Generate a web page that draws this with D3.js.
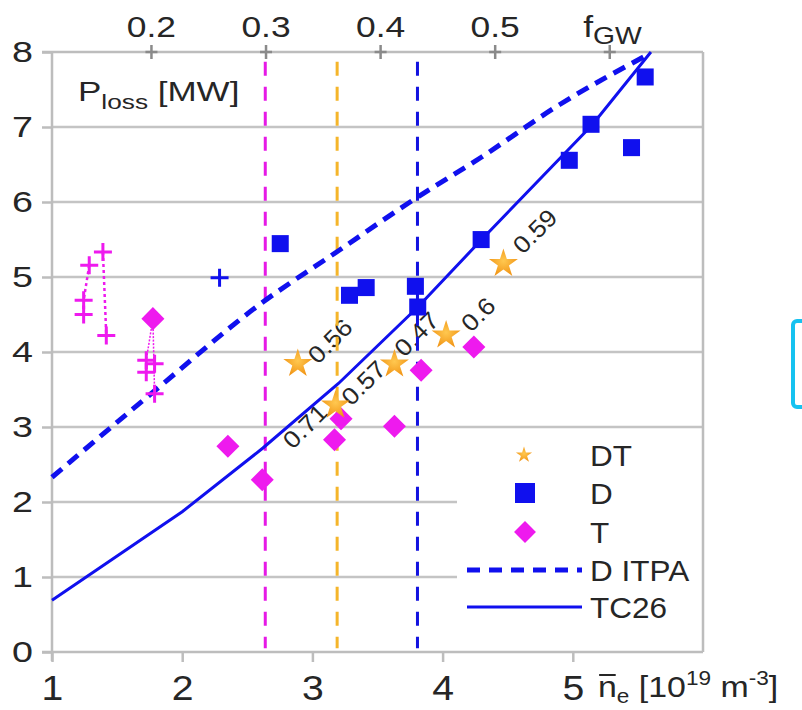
<!DOCTYPE html>
<html><head><meta charset="utf-8">
<script src="https://cdn.jsdelivr.net/npm/d3@7"></script>
<style>
html,body{margin:0;padding:0;background:#fff;}
svg{display:block;font-family:"Liberation Sans",Arial,sans-serif;}
</style></head><body>
<svg id="chart" width="802" height="710"></svg>
<script>
// ---------- data ----------
const yTicks = [0, 1, 2, 3, 4, 5, 6, 7, 8];
const xTicks = [1, 2, 3, 4, 5];
const fTicks = [0.2, 0.3, 0.4, 0.5, 0.6];
const fTickLabels = ["0.2", "0.3", "0.4", "0.5", "fGW"];
const nGW = 8.8; // ne (1e19 m^-3) at fGW = 1

// DT (stars) with labels
const dtNe = [2.888, 3.177, 3.63, 4.027, 4.467];
const dtP  = [3.845, 3.289, 3.836, 4.223, 5.178];
const dtLabels = ["0.56", "0.57", "0.47", "0.6", "0.59"];
const dtLabelNe = [3.042, 3.298, 3.705, 4.219, 4.615];
const dtLabelP  = [3.823, 3.267, 3.916, 4.249, 5.289];
// extra annotation
const extraLabels = ["0.71"];
const extraLabelNe = [2.85];
const extraLabelP = [2.69];

// D (squares)
const dNe = [2.753, 3.285, 3.413, 3.791, 3.809, 4.296, 4.973, 5.14, 5.451, 5.556];
const dP  = [5.445, 4.756, 4.859, 4.876, 4.6, 5.499, 6.556, 7.036, 6.725, 7.667];
// D (cross)
const dCrossNe = [2.287];
const dCrossP  = [4.99];

// T (diamonds)
const tNe = [1.775, 2.351, 2.615, 3.17, 3.22, 3.63, 3.835, 4.24];
const tP  = [4.445, 2.743, 2.298, 2.83, 3.11, 3.01, 3.756, 4.067];
// T (crosses)
const tCrossNe = [1.286, 1.243, 1.243, 1.391, 1.417, 1.724, 1.724, 1.788, 1.788];
const tCrossP  = [5.156, 4.69, 4.5, 5.333, 4.22, 3.89, 3.73, 3.845, 3.445];
// dotted connectors between T crosses (index pairs), and from diamond 0 to crosses
const tDotted = [[0, 1], [3, 4]];
const tFromDiamond = [5, 8];

// D ITPA scaling (dashed)
const itpaNe = [1.0, 1.8, 2.6, 3.2, 3.75, 4.3, 4.9, 5.56];
const itpaP  = [2.33, 3.5, 4.64, 5.35, 6.0, 6.6, 7.3, 7.95];
// TC26 (solid)
const tcNe = [1.0, 2.0, 2.62, 3.2, 3.81, 4.3, 5.15, 5.6];
const tcP  = [0.69, 1.87, 2.72, 3.58, 4.6, 5.5, 7.03, 8.0];

// density limits (vertical dashed lines)
const vlineNe = [2.638, 3.19, 3.807];
const vlineColors = ["#e619e6", "#f5b52a", "#1212e0"];

// legend
const legendLabels = ["DT", "D", "T", "D ITPA", "TC26"];

// ---------- drawing ----------
const BLUE = "#1010ee", MAG = "#ee1aee", GRID = "#c4c4c4", TXT = "#262626";
const svg = d3.select("#chart");
const x = d3.scaleLinear().domain([1, 6]).range([52, 703]);
const y = d3.scaleLinear().domain([0, 8]).range([652, 52]);
const xf = d3.scaleLinear().domain([1 / nGW, 6 / nGW]).range([52, 703]);

function stretch(sel, sx) {
  sel.each(function () {
    const t = d3.select(this);
    const xv = parseFloat(t.attr("x")) || 0;
    t.attr("transform", `translate(${xv},0) scale(${sx},1) translate(${-xv},0)`);
  });
}

const defs = svg.append("defs");
const rg = defs.append("radialGradient").attr("id", "starGrad").attr("cx", "50%").attr("cy", "45%").attr("r", "60%");
rg.append("stop").attr("offset", "0%").attr("stop-color", "#ffc850");
rg.append("stop").attr("offset", "100%").attr("stop-color", "#f09010");

// gridlines
svg.append("g").selectAll("line").data(yTicks.filter(d => d > 0 && d < 8)).join("line")
  .attr("x1", x(1)).attr("x2", x(6)).attr("y1", d => y(d)).attr("y2", d => y(d))
  .attr("stroke", GRID).attr("stroke-width", 2.5);

// legend background (hides gridlines)
svg.append("rect").attr("x", 457).attr("y", 432).attr("width", 246).attr("height", 219).attr("fill", "#fff");

// axes
const axLeft = svg.append("g").attr("transform", `translate(${x(1)},0)`)
  .call(d3.axisLeft(y).tickValues(yTicks).tickSize(10).tickPadding(9).tickSizeOuter(0).tickFormat(d3.format("d")));
axLeft.select(".domain").attr("d", `M0,${y(8)}V${y(0) + 9}`);
const axBottom = svg.append("g").attr("transform", `translate(0,${y(0)})`)
  .call(d3.axisBottom(x).tickValues(xTicks).tickSize(10).tickPadding(13).tickSizeOuter(0).tickFormat(d3.format("d")));
axBottom.select(".domain").attr("d", `M${x(1) - 10},0H${x(6)}`);
const axTop = svg.append("g").attr("transform", `translate(0,${y(8)})`)
  .call(d3.axisTop(xf).tickValues(fTicks).tickSize(0).tickPadding(15)
    .tickFormat((d, i) => i === fTicks.length - 1 ? "" : fTickLabels[i]));
axTop.select(".domain").attr("d", `M${x(1) - 10},0H${x(6)}`);
// right border
svg.append("line").attr("x1", x(6)).attr("x2", x(6)).attr("y1", y(8)).attr("y2", y(0))
  .attr("stroke", "#bdbdbd").attr("stroke-width", 2.5);

[axLeft, axBottom, axTop].forEach(a => {
  a.selectAll(".domain").attr("stroke", "#bdbdbd").attr("stroke-width", 2.5);
  a.selectAll(".tick line").attr("stroke", "#bdbdbd").attr("stroke-width", 2.5);
  a.selectAll("text").attr("fill", TXT).attr("font-family", "Liberation Sans, Arial, sans-serif");
});
axLeft.selectAll("text").attr("font-size", 29);
stretch(axLeft.selectAll("text"), 1.3);
axBottom.selectAll("text").attr("font-size", 35);
stretch(axBottom.selectAll("text"), 1.12);
axTop.selectAll("text").attr("font-size", 30);
stretch(axTop.selectAll("text"), 1.18);
// plus-shaped top ticks
axTop.selectAll(".tick").append("path").attr("d", "M0,-7V7M-6,0H6")
  .attr("stroke", "#8a8a8a").attr("stroke-width", 2.5).attr("fill", "none");
// fGW label on last top tick
const fLab = svg.append("g").attr("transform", `translate(${xf(fTicks[4]) - 26},37) scale(1.18,1)`)
  .append("text").attr("fill", TXT).attr("font-size", 30);
fLab.append("tspan").text(fTickLabels[4].charAt(0));
fLab.append("tspan").attr("font-size", 24).attr("dy", 7).text(fTickLabels[4].slice(1));

// axis titles
const pl = svg.append("g").attr("transform", "translate(78,101) scale(1.25,1)")
  .append("text").attr("fill", TXT).attr("font-size", 28);
pl.append("tspan").text("P");
pl.append("tspan").attr("font-size", 21).attr("dy", 8).text("loss");
pl.append("tspan").attr("dy", -8).text(" [MW]");

const xtG = svg.append("g").attr("transform", "translate(598,697) scale(1.13,1)");
const xt = xtG.append("text").attr("fill", TXT).attr("font-size", 30);
xt.append("tspan").text("n");
xt.append("tspan").attr("font-size", 20).attr("dy", 6).text("e");
xt.append("tspan").attr("dy", -6).text(" [10");
xt.append("tspan").attr("font-size", 20).attr("dy", -12).text("19");
xt.append("tspan").attr("dy", 12).text(" m");
xt.append("tspan").attr("font-size", 20).attr("dy", -12).text("-3");
xt.append("tspan").attr("dy", 12).text("]");
const ext = xt.node().getExtentOfChar(0);
xtG.append("line").attr("x1", ext.x + 1).attr("x2", ext.x + ext.width - 1).attr("y1", -22).attr("y2", -22)
  .attr("stroke", TXT).attr("stroke-width", 2);

// labels on data
const lbl = svg.append("g");
dtLabels.forEach((t, i) => {
  lbl.append("text").attr("transform", `translate(${x(dtLabelNe[i])},${y(dtLabelP[i])}) rotate(-45) scale(1.1,1)`)
    .attr("font-size", 24).attr("fill", TXT).text(t);
});
extraLabels.forEach((t, i) => {
  lbl.append("text").attr("transform", `translate(${x(extraLabelNe[i])},${y(extraLabelP[i])}) rotate(-45) scale(1.1,1)`)
    .attr("font-size", 24).attr("fill", TXT).text(t);
});

// vertical dashed lines
svg.append("g").selectAll("line").data(vlineNe).join("line")
  .attr("x1", d => x(d)).attr("x2", d => x(d)).attr("y1", y(7.87)).attr("y2", y(0.05))
  .attr("stroke", (d, i) => vlineColors[i]).attr("stroke-width", 3).attr("stroke-dasharray", "14,11");

// curves
const lineGen = d3.line().x(d => x(d[0])).y(d => y(d[1])).curve(d3.curveMonotoneX);
svg.append("path").attr("d", lineGen(itpaNe.map((v, i) => [v, itpaP[i]])))
  .attr("fill", "none").attr("stroke", BLUE).attr("stroke-width", 5).attr("stroke-dasharray", "13,8");
svg.append("path").attr("d", d3.line().x(d => x(d[0])).y(d => y(d[1]))(tcNe.map((v, i) => [v, tcP[i]])))
  .attr("fill", "none").attr("stroke", BLUE).attr("stroke-width", 3);

// T connectors
const conn = svg.append("g");
tDotted.forEach(([a, b]) => {
  conn.append("line").attr("x1", x(tCrossNe[a])).attr("y1", y(tCrossP[a])).attr("x2", x(tCrossNe[b])).attr("y2", y(tCrossP[b]))
    .attr("stroke", MAG).attr("stroke-width", 2.5).attr("stroke-dasharray", "3,3");
});
tFromDiamond.forEach(b => {
  conn.append("line").attr("x1", x(tNe[0])).attr("y1", y(tP[0])).attr("x2", x(tCrossNe[b])).attr("y2", y(tCrossP[b]))
    .attr("stroke", MAG).attr("stroke-width", 1.5).attr("stroke-dasharray", "2,1.5");
});

// markers
const plus = "M-9,0H9M0,-9V9";
svg.append("g").selectAll("path").data(tCrossNe).join("path")
  .attr("transform", (d, i) => `translate(${x(d)},${y(tCrossP[i])})`).attr("d", plus)
  .attr("stroke", MAG).attr("stroke-width", 3).attr("fill", "none");
svg.append("g").selectAll("path").data(dCrossNe).join("path")
  .attr("transform", (d, i) => `translate(${x(d)},${y(dCrossP[i])})`).attr("d", plus)
  .attr("stroke", BLUE).attr("stroke-width", 3).attr("fill", "none");
const diamond = d3.symbol(d3.symbolSquare, 265)();
svg.append("g").selectAll("path").data(tNe).join("path")
  .attr("transform", (d, i) => `translate(${x(d)},${y(tP[i])}) rotate(45)`).attr("d", diamond).attr("fill", MAG);
const square = d3.symbol(d3.symbolSquare, 290)();
svg.append("g").selectAll("path").data(dNe).join("path")
  .attr("transform", (d, i) => `translate(${x(d)},${y(dP[i])})`).attr("d", square).attr("fill", BLUE);
const star = d3.symbol(d3.symbolStar, 260)();
svg.append("g").selectAll("path").data(dtNe).join("path")
  .attr("transform", (d, i) => `translate(${x(d)},${y(dtP[i])})`).attr("d", star).attr("fill", "url(#starGrad)");

// legend
const lg = svg.append("g");
const lgY = [455, 493, 532, 570, 607];
lg.append("path").attr("transform", `translate(524,${lgY[0]})`).attr("d", d3.symbol(d3.symbolStar, 80)()).attr("fill", "url(#starGrad)");
lg.append("path").attr("transform", `translate(525,${lgY[1]})`).attr("d", d3.symbol(d3.symbolSquare, 400)()).attr("fill", BLUE);
lg.append("path").attr("transform", `translate(525,${lgY[2]}) rotate(45)`).attr("d", d3.symbol(d3.symbolSquare, 240)()).attr("fill", MAG);
lg.append("line").attr("x1", 467).attr("x2", 582).attr("y1", lgY[3]).attr("y2", lgY[3])
  .attr("stroke", BLUE).attr("stroke-width", 5).attr("stroke-dasharray", "13,9");
lg.append("line").attr("x1", 467).attr("x2", 582).attr("y1", lgY[4]).attr("y2", lgY[4])
  .attr("stroke", BLUE).attr("stroke-width", 3);
legendLabels.forEach((t, i) => {
  lg.append("text").attr("x", 590).attr("y", lgY[i] + 11).attr("font-size", 30).attr("fill", TXT).text(t);
});
stretch(lg.selectAll("text"), 1.05);

// cyan bracket at right edge
svg.append("rect").attr("x", 793).attr("y", 321).attr("width", 40).attr("height", 86).attr("rx", 4)
  .attr("fill", "none").attr("stroke", "#16c2f0").attr("stroke-width", 4);
</script>
</body></html>
